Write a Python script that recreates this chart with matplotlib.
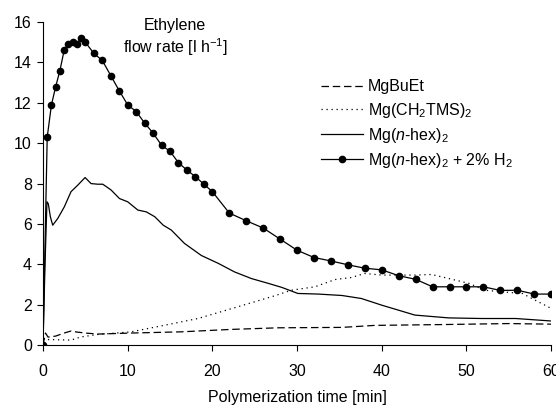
import matplotlib
matplotlib.use("Agg")
import numpy as np
import matplotlib.pyplot as plt

plt.rcParams['font.family'] = ['Liberation Sans', 'DejaVu Sans']
plt.rcParams['mathtext.fontset'] = 'custom'
plt.rcParams['mathtext.rm'] = 'Liberation Sans'
plt.rcParams['mathtext.it'] = 'Liberation Sans:italic'

# MgBuEt (dashed)
t_buet = [0, 0.3, 0.6, 1.0, 1.5, 2.5, 3.3, 4.0, 5.0, 6.5, 10.4, 16.3, 22.2, 27.8, 35.3, 39.2, 47.1, 55.0, 60.0]
y_buet = [0, 0.6, 0.4, 0.42, 0.45, 0.6, 0.7, 0.65, 0.6, 0.55, 0.6, 0.66, 0.78, 0.86, 0.88, 0.98, 1.02, 1.07, 1.04]

# Mg(CH2TMS)2 (dotted)
t_tms = [0, 0.55, 3.3, 4.5, 6.5, 10.4, 14.4, 18.3, 22.2, 27.4, 29.3, 32.1, 34.5, 36.4, 38.0, 40.0, 42.0, 43.9, 45.9, 47.9, 50.3, 52.2, 54.2, 56.6, 58.1, 60.0]
y_tms = [0.3, 0.28, 0.25, 0.41, 0.53, 0.66, 0.99, 1.32, 1.8, 2.45, 2.72, 2.89, 3.25, 3.35, 3.55, 3.47, 3.47, 3.47, 3.5, 3.3, 3.06, 2.72, 2.64, 2.56, 2.23, 1.82]

# Mg(n-hex)2 (solid)
t_hex = [0, 0.24, 0.47, 0.63, 0.87, 1.15, 1.74, 2.52, 3.31, 4.1, 4.97, 5.68, 6.47, 7.06, 8.05, 9.03, 10.0, 11.2, 12.2, 13.2, 14.2, 15.15, 16.7, 18.7, 20.7, 22.6, 24.6, 26.6, 28.2, 30.1, 32.5, 35.3, 37.6, 40.0, 42.0, 43.9, 47.9, 51.8, 55.8, 59.9]
y_hex = [0, 4.0, 7.1, 7.0, 6.36, 5.94, 6.27, 6.85, 7.6, 7.92, 8.3, 8.0, 7.97, 7.97, 7.68, 7.26, 7.1, 6.69, 6.6, 6.36, 5.94, 5.7, 5.04, 4.44, 4.05, 3.63, 3.3, 3.06, 2.86, 2.56, 2.53, 2.46, 2.31, 1.98, 1.73, 1.49, 1.35, 1.32, 1.32, 1.2]

# Mg(n-hex)2 + 2% H2 (markers)
t_h2 = [0, 0.5, 1.0, 1.5, 2.0, 2.5, 3.0, 3.5, 4.0, 4.5, 5.0, 6, 7, 8, 9, 10, 11, 12, 13, 14, 15, 16, 17, 18, 19, 20,
        22, 24, 26, 28, 30, 32, 34, 36, 38, 40, 42, 44, 46, 48, 50, 52, 54, 56, 58, 60]
y_h2 = [0, 10.3, 11.9, 12.8, 13.6, 14.6, 14.9, 15.0, 14.9, 15.2, 15.0, 14.45, 14.1, 13.35, 12.6, 11.9, 11.57, 11.0, 10.5, 9.9, 9.6, 9.03, 8.67, 8.34, 7.97, 7.6,
        6.54, 6.16, 5.8, 5.25, 4.7, 4.34, 4.17, 3.98, 3.81, 3.73, 3.44, 3.26, 2.89, 2.89, 2.89, 2.89, 2.71, 2.72, 2.53, 2.53]

fs = 11.5

fig = plt.figure(figsize=(5.56, 4.08), dpi=100)
ax = fig.add_axes([0.0773, 0.154, 0.914, 0.792])

ax.plot(t_buet, y_buet, color='black', lw=0.9, dashes=(6, 3), label='MgBuEt')
ax.plot(t_tms, y_tms, color='black', lw=0.9, dashes=(1, 3), label=r'Mg(CH$_2$TMS)$_2$')
ax.plot(t_hex, y_hex, color='black', lw=0.9, label=r'Mg($n$-hex)$_2$')
ax.plot(t_h2, y_h2, color='black', lw=0.9, marker='o', markersize=4.5, label=r'Mg($n$-hex)$_2$ + 2% H$_2$')

ax.set_xlim(0, 60)
ax.set_ylim(0, 16)
ax.set_xticks(range(0, 61, 10))
ax.set_yticks(range(0, 17, 2))
ax.spines['top'].set_visible(False)
ax.spines['right'].set_visible(False)
ax.tick_params(direction='out', length=4, width=0.8, labelsize=fs, colors='black')
ax.tick_params(axis='x', pad=9.5)
ax.tick_params(axis='y', pad=4)
for s in ax.spines.values():
    s.set_linewidth(0.8)
ax.set_xlabel('Polymerization time [min]', fontsize=fs, va='baseline')
ax.xaxis.set_label_coords(0.5, -0.176)

ax.text(0.26, 0.975, 'Ethylene', transform=ax.transAxes, ha='center', va='baseline', fontsize=fs)
ax.text(0.26, 0.905, r'flow rate [l h$^{-1}$]', transform=ax.transAxes, ha='center', va='baseline', fontsize=fs)

leg = ax.legend(loc='upper left', bbox_to_anchor=(0.535, 0.842), frameon=False, fontsize=fs,
                handlelength=2.6, handletextpad=0.3, labelspacing=0.38, borderaxespad=0)

fig.savefig('out.png', dpi=100)
